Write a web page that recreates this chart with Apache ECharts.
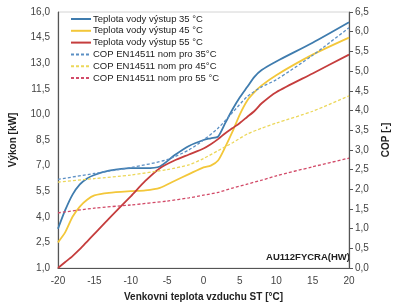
<!DOCTYPE html>
<html>
<head>
<meta charset="utf-8">
<script src="https://cdn.jsdelivr.net/npm/echarts@6/dist/echarts.min.js"></script>
<style>
  html, body { margin: 0; padding: 0; background: #fff; }
  #chart { width: 399px; height: 307px; }
</style>
</head>
<body>
<div id="chart"></div>
<script>
// teploty pro krivky vykonu
const tempsKw = [-20, -19, -18, -17, -16, -15, -13, -10, -8, -6, -4, -2, 0, 1, 2, 3, 4, 5, 6, 7, 8, 10, 15, 20];
const kw35 = [3.3, 4.4, 5.3, 5.9, 6.25, 6.45, 6.7, 6.85, 6.85, 6.95, 7.6, 8.15, 8.5, 8.6, 8.7, 9.5, 10.3, 11.0, 11.6, 12.2, 12.6, 13.1, 14.2, 15.4];
const kw45 = [2.5, 3.1, 4.0, 4.6, 5.0, 5.25, 5.4, 5.5, 5.55, 5.7, 6.1, 6.5, 6.9, 7.0, 7.3, 8.1, 9.0, 10.0, 10.8, 11.3, 11.7, 12.3, 13.5, 14.5];
const kw55 = [1.0, 1.35, 1.7, 2.1, 2.55, 3.0, 3.9, 5.2, 6.1, 6.85, 7.3, 7.65, 8.0, 8.25, 8.55, 8.9, 9.2, 9.5, 9.85, 10.2, 10.65, 11.3, 12.4, 13.5];

// teploty pro COP
const tempsCop = [-20, -15, -10, -5, -2, 0, 2, 4, 6, 8, 10, 15, 20];
const cop35 = [2.25, 2.4, 2.55, 2.75, 3.0, 3.25, 3.55, 3.95, 4.35, 4.6, 4.78, 5.4, 6.1];
const cop45 = [2.18, 2.27, 2.36, 2.5, 2.62, 2.78, 2.98, 3.18, 3.4, 3.55, 3.68, 3.98, 4.37];
const cop55 = [1.4, 1.52, 1.6, 1.7, 1.78, 1.85, 1.92, 2.03, 2.13, 2.23, 2.34, 2.57, 2.79];

const kwTicks = [1.0, 2.5, 4.0, 5.5, 7.0, 8.5, 10.0, 11.5, 13.0, 14.5, 16.0];

const names = [
  'Teplota vody výstup 35 °C',
  'Teplota vody výstup 45 °C',
  'Teplota vody výstup 55 °C',
  'COP EN14511 nom pro 35°C',
  'COP EN14511 nom pro 45°C',
  'COP EN14511 nom pro 55 °C'
];

const fmt = v => v.toFixed(1).replace('.', ',');
const pairs = (xs, ys) => xs.map((x, i) => [x, ys[i]]);
const font = '"Liberation Sans", Arial, sans-serif';

const chart = echarts.init(document.getElementById('chart'));

function solid(name, data, color) {
  return {
    name: name, type: 'line', data: data, yAxisIndex: 0,
    symbol: 'none', smooth: 0.25,
    lineStyle: { color: color, width: 1.8 }, itemStyle: { color: color }
  };
}
function dashed(name, data, color) {
  return {
    name: name, type: 'line', data: data, yAxisIndex: 1,
    symbol: 'none', smooth: 0.25,
    lineStyle: { color: color, width: 1.3, type: [3, 2] }, itemStyle: { color: color }
  };
}

chart.setOption({
  animation: false,
  textStyle: { fontFamily: font },
  grid: { left: 55, right: 41, top: 12, bottom: 39, show: true, borderColor: '#d4d4d4', borderWidth: 1 },
  legend: {
    orient: 'vertical', left: 65, top: 9,
    itemWidth: 20, itemHeight: 8, itemGap: 1.8,
    itemStyle: { opacity: 0 },
    textStyle: { fontSize: 9.5, color: '#222', fontFamily: font, padding: [0, 0, 0, -3] },
    data: names
  },
  xAxis: {
    type: 'value', min: -20, max: 20, interval: 5,
    name: 'Venkovni teplota vzduchu ST [°C]', nameLocation: 'middle', nameGap: 24,
    nameTextStyle: { fontWeight: 'bold', fontSize: 10, color: '#222' },
    axisLine: { onZero: false, lineStyle: { color: '#555', width: 1.2 } },
    axisTick: { show: false },
    axisLabel: { fontSize: 10, color: '#444', margin: 8 },
    splitLine: { show: false }
  },
  yAxis: [{
    type: 'value', min: 1, max: 16, position: 'left',
    name: 'Výkon [kW]', nameLocation: 'middle', nameRotate: 90, nameGap: 40,
    nameTextStyle: { fontWeight: 'bold', fontSize: 10, color: '#222' },
    axisLine: { show: true, onZero: false, lineStyle: { color: '#555', width: 1.2 } },
    axisTick: { show: false },
    axisLabel: { customValues: kwTicks, formatter: fmt, fontSize: 10, color: '#444', margin: 8 },
    splitLine: { show: false }
  }, {
    type: 'value', min: 0, max: 6.5, interval: 0.5, position: 'right',
    name: 'COP [-]', nameLocation: 'middle', nameRotate: 90, nameGap: 32,
    nameTextStyle: { fontWeight: 'bold', fontSize: 10, color: '#222' },
    axisLine: { show: true, onZero: false, lineStyle: { color: '#555', width: 1.2 } },
    axisTick: { show: true, length: 4, lineStyle: { color: '#555' } },
    axisLabel: { formatter: fmt, fontSize: 10, color: '#444', margin: 6 },
    splitLine: { show: false }
  }],
  graphic: [{
    type: 'text', right: 49, top: 252,
    style: { text: 'AU112FYCRA(HW)', font: 'bold 9.5px ' + font, fill: '#222' }
  }],
  series: [
    solid(names[0], pairs(tempsKw, kw35), '#3f7cae'),
    solid(names[1], pairs(tempsKw, kw45), '#f3c73a'),
    solid(names[2], pairs(tempsKw, kw55), '#c53d3d'),
    dashed(names[3], pairs(tempsCop, cop35), '#5b8fc4'),
    dashed(names[4], pairs(tempsCop, cop45), '#ecd75a'),
    dashed(names[5], pairs(tempsCop, cop55), '#d24a68')
  ]
});
</script>
</body>
</html>
